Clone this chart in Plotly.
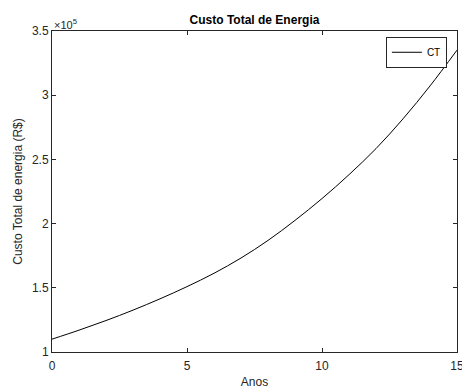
import plotly.graph_objects as go

# Data
anos = [0, 1, 2, 3, 4, 5, 6, 7, 8, 9, 10, 11, 12, 13, 14, 15]
custo_total = [110000, 117000, 124500, 132600, 141400, 150900, 161300, 173200,
               186900, 202500, 219500, 238100, 258400, 281600, 307200, 335100]
y_tickvals = [100000, 150000, 200000, 250000, 300000, 350000]
y_ticktext = ["1", "1.5", "2", "2.5", "3", "3.5"]
x_tickvals = [0, 5, 10, 15]

axis_color = "#262626"
font_family = "Liberation Sans, Arial, sans-serif"

fig = go.Figure()
fig.add_trace(go.Scatter(
    x=anos, y=custo_total, mode="lines", name="CT",
    line=dict(color="black", width=1, shape="spline", smoothing=1.0),
))

fig.update_layout(
    width=462, height=389,
    margin=dict(l=52, r=5, t=31, b=37, autoexpand=False),
    paper_bgcolor="white", plot_bgcolor="white",
    font=dict(family=font_family, size=12, color=axis_color),
    title=dict(text="<b>Custo Total de Energia</b>", x=0.5, xref="paper",
               y=1 - 19.5 / 389, yref="container", yanchor="middle", xanchor="center",
               font=dict(size=12, color="black")),
    showlegend=True,
    legend=dict(x=0.975, y=0.982, xanchor="right", yanchor="top",
                bgcolor="white", bordercolor=axis_color, borderwidth=1,
                font=dict(size=10, color="black"), itemwidth=30,
                tracegroupgap=0),
    xaxis=dict(range=[0, 15], tickvals=x_tickvals, ticks="inside", ticklen=4,
               tickcolor=axis_color, showline=True, linecolor=axis_color, linewidth=1,
               mirror="ticks", showgrid=False, zeroline=False, automargin=False,
               ticklabeloverflow="allow", ticklabelstandoff=3,
               tickfont=dict(size=12, color=axis_color),
               title=dict(text="Anos", standoff=6, font=dict(size=12, color=axis_color))),
    yaxis=dict(range=[100000, 350000], tickvals=y_tickvals, ticktext=y_ticktext,
               ticks="inside", ticklen=4, tickcolor=axis_color, showline=True,
               linecolor=axis_color, linewidth=1, mirror="ticks", showgrid=False,
               zeroline=False, automargin=False, tickfont=dict(size=12, color=axis_color),
               title=dict(text="Custo Total de energia (R$)", standoff=6,
                          font=dict(size=12, color=axis_color))),
    annotations=[dict(text="\u00d710<sup>5</sup>", xref="paper", yref="paper",
                      x=0, y=1, xanchor="left", yanchor="bottom", showarrow=False,
                      font=dict(size=11, color=axis_color), yshift=-2)],
)

fig.write_html("out.html", config={"displayModeBar": False},
               post_script="document.body.style.margin='0';document.body.style.overflow='hidden';")
